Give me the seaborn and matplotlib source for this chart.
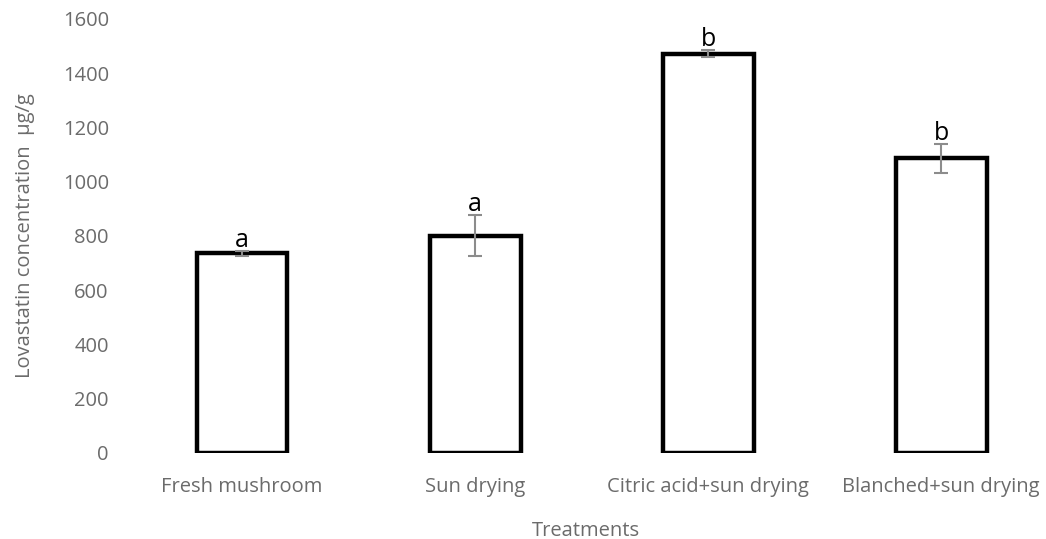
import matplotlib
matplotlib.use("Agg")
import matplotlib.pyplot as plt
import seaborn as sns
import pandas as pd

# Lovastatin content by treatment (mean ± error), with significance letters
treatments = ["Fresh mushroom", "Sun drying", "Citric acid+sun drying", "Blanched+sun drying"]
lovastatin = [735, 800, 1472, 1086]
errors = [10, 76, 12, 54]
letters = ["a", "a", "b", "b"]
yticks = [0, 200, 400, 600, 800, 1000, 1200, 1400, 1600]

sns.set_theme(style="white")
plt.rcParams["font.family"] = ["Open Sans", "DejaVu Sans"]

df = pd.DataFrame({"Treatment": treatments, "Lovastatin": lovastatin})

fig = plt.figure(figsize=(10.46, 5.39), dpi=100)
ax = fig.add_axes([0.12, 0.16, 0.88, 0.805])

sns.barplot(data=df, x="Treatment", y="Lovastatin", ax=ax, color="white",
            edgecolor="black", linewidth=3.2, width=0.39, errorbar=None)

ax.errorbar(range(len(treatments)), lovastatin, yerr=errors, fmt="none",
            ecolor="#8c8c8c", elinewidth=1.5, capsize=5, capthick=1.5, zorder=5)

for i, (v, e, lab) in enumerate(zip(lovastatin, errors, letters)):
    ax.text(i, v + e - 8, lab, ha="center", va="bottom", fontsize=18, color="black")

ax.set_xlim(-0.5, 3.45)
ax.set_ylim(0, 1600)
ax.set_yticks(yticks)
ax.tick_params(axis="both", colors="#6b6b6b", labelsize=14.5, length=0)
ax.tick_params(axis="x", pad=17.5)
ax.tick_params(axis="y", pad=12)
for s in ax.spines.values():
    s.set_visible(False)

ax.set_xlabel("Treatments", color="#6b6b6b", fontsize=14.5, labelpad=17)
ax.set_ylabel("Lovastatin concentration  µg/g", color="#6b6b6b", fontsize=14.5, labelpad=20)

fig.savefig("out.png", dpi=100)
